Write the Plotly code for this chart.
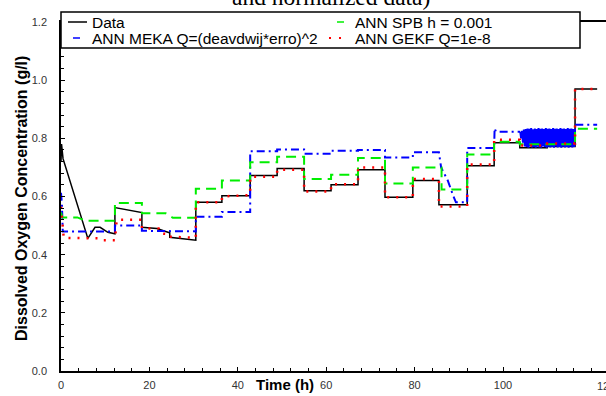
import numpy as np
import plotly.graph_objects as go

# ---- data (time in h, DO in g/l) ----
data_t = [0, 0.12, 0.46, 6.07, 7.7, 8.85, 10.6, 12.2, 12.2, 18.3, 18.3, 21.7, 24.2, 24.6, 24.6, 29.85,
          30.5, 30.5, 36.4, 36.4, 42.8, 42.8, 48.9, 48.9, 55, 55, 61.1, 61.1, 67.2, 67.2, 73.3, 73.3,
          79.6, 79.6, 85.5, 85.5, 91.9, 91.9, 98, 98, 103.8, 103.8, 110, 110, 116.3, 116.3, 121.3]
data_v = [0.72, 0.78, 0.73, 0.456, 0.494, 0.494, 0.477, 0.472, 0.562, 0.545, 0.494, 0.49, 0.477, 0.475,
          0.46, 0.45, 0.45, 0.58, 0.58, 0.603, 0.603, 0.672, 0.672, 0.696, 0.696, 0.62, 0.62, 0.64, 0.64,
          0.692, 0.692, 0.597, 0.597, 0.655, 0.655, 0.572, 0.572, 0.706, 0.706, 0.785, 0.785, 0.768,
          0.768, 0.772, 0.772, 0.97, 0.97]

meka_t = [0, 0.2, 0.4, 12.2, 12.2, 18.3, 18.3, 30.5, 30.5, 36.4, 36.4, 42.8, 42.8, 48.9, 48.9, 55, 55,
          61.1, 61.1, 67.2, 67.2, 73.3, 73.3, 79.6, 79.6, 85.5, 86.0, 87.5, 88.8, 89.35, 91.9, 91.9, 98,
          98.1, 98.4, 103.9]
meka_v = [0.613, 0.575, 0.48, 0.48, 0.50, 0.50, 0.482, 0.48, 0.53, 0.53, 0.547, 0.547, 0.756, 0.756,
          0.762, 0.762, 0.747, 0.747, 0.757, 0.757, 0.76, 0.76, 0.734, 0.734, 0.752, 0.752, 0.70, 0.655,
          0.60, 0.58, 0.58, 0.767, 0.767, 0.835, 0.823, 0.823]
# oscillating MEKA estimate between ~104 h and ~116 h (read as a dense band)
meka_osc_start, meka_osc_end = 104.1, 116.3
meka_osc_v = [0.800, 0.826, 0.785, 0.830, 0.772, 0.832, 0.770, 0.834, 0.768, 0.833, 0.772, 0.835,
              0.769, 0.831, 0.770, 0.834, 0.768, 0.832, 0.771, 0.835, 0.769, 0.833, 0.768, 0.834,
              0.772, 0.832, 0.770, 0.835, 0.768, 0.833, 0.771, 0.834, 0.769, 0.832, 0.770, 0.835,
              0.768, 0.833, 0.772, 0.834, 0.769, 0.832, 0.770, 0.835, 0.768, 0.833, 0.771, 0.834,
              0.769, 0.832, 0.770, 0.835, 0.768, 0.833, 0.772, 0.834, 0.769, 0.832, 0.770, 0.833]
meka_tail_t = [116.35, 121.3]
meka_tail_v = [0.847, 0.847]

spb_t = [0, 0.3, 3.7, 5.46, 12.2, 12.2, 18.3, 18.3, 23.7, 25.3, 30.5, 30.5, 36.4, 36.4, 42.8, 42.8,
         48.9, 48.9, 55, 55, 61.1, 61.1, 67.2, 67.2, 73.3, 73.3, 79.6, 79.6, 86.1, 86.1, 91.9, 91.9, 98,
         98, 103.8, 103.8, 110, 110, 116.3, 116.3, 121.3]
spb_v = [0.545, 0.528, 0.528, 0.517, 0.517, 0.578, 0.578, 0.542, 0.542, 0.527, 0.527, 0.627, 0.627,
         0.655, 0.655, 0.718, 0.718, 0.737, 0.737, 0.66, 0.66, 0.675, 0.675, 0.732, 0.732, 0.645, 0.645,
         0.70, 0.70, 0.624, 0.624, 0.744, 0.744, 0.788, 0.788, 0.78, 0.78, 0.78, 0.78, 0.833, 0.833]

gekf_t = [0, 0.31, 0.62, 8.85, 9.26, 12.2, 12.6, 18.3, 18.3, 22.1, 22.6, 24.6, 24.6, 30.5, 30.5, 36.4,
          36.4, 42.8, 42.8, 48.9, 48.9, 55, 55, 61.1, 61.1, 67.2, 67.2, 73.3, 73.3, 79.6, 79.6, 85.5,
          85.5, 91.9, 91.9, 98, 98, 103.8, 103.8, 110, 110, 116.3, 116.3, 121.3]
gekf_v = [0.565, 0.50, 0.458, 0.456, 0.45, 0.45, 0.52, 0.52, 0.49, 0.49, 0.473, 0.47, 0.462, 0.458,
          0.58, 0.58, 0.60, 0.605, 0.668, 0.668, 0.692, 0.692, 0.617, 0.617, 0.642, 0.642, 0.70, 0.70,
          0.597, 0.597, 0.66, 0.66, 0.566, 0.566, 0.71, 0.71, 0.795, 0.795, 0.775, 0.775, 0.782, 0.782,
          0.97, 0.97]

names = ["Data", "ANN MEKA Q=(deavdwij*erro)^2", "ANN SPB h = 0.001", "ANN GEKF Q=1e-8"]
x_ticks = [0, 20, 40, 60, 80, 100]
y_ticks = [0.0, 0.2, 0.4, 0.6, 0.8, 1.0, 1.2]

# ---- figure ----
W, H = 606, 396
ml, mr, mt, mb = 61, 0, 22, 25
pw, ph = W - ml - mr, H - mt - mb
px_per_h = 4.42
x_max = pw / px_per_h

BLUE, GREEN, RED = "#0000ff", "#00ee00", "#ff0000"

meka_osc_t = list(np.linspace(meka_osc_start, meka_osc_end, len(meka_osc_v)))

fig = go.Figure()
fig.add_trace(go.Scatter(x=data_t, y=data_v, mode="lines", name=names[0],
                         line=dict(color="black", width=1.5)))
fig.add_trace(go.Scatter(x=meka_t + meka_tail_t[:0], y=meka_v, mode="lines", name=names[1],
                         line=dict(color=BLUE, width=2, dash="8px,4px,2px,4px")))
fig.add_trace(go.Scatter(x=[meka_t[-1]] + meka_osc_t, y=[meka_v[-1]] + meka_osc_v, mode="lines",
                         name=names[1], showlegend=False, line=dict(color=BLUE, width=2)))
fig.add_trace(go.Scatter(x=meka_tail_t, y=meka_tail_v, mode="lines", name=names[1], showlegend=False,
                         line=dict(color=BLUE, width=2, dash="8px,4px,2px,4px")))
fig.add_trace(go.Scatter(x=spb_t, y=spb_v, mode="lines", name=names[2],
                         line=dict(color=GREEN, width=2, dash="10px,6px")))
fig.add_trace(go.Scatter(x=gekf_t, y=gekf_v, mode="lines", name=names[3],
                         line=dict(color=RED, width=2.5, dash="2px,7px")))


def px_x(p):
    return (p - ml) / pw


def px_y(p):
    return (H - mb - p) / ph


shapes = []
annotations = []
# legend box
shapes.append(dict(type="rect", xref="paper", yref="paper", x0=px_x(61), x1=px_x(580),
                   y0=px_y(48), y1=px_y(12), line=dict(color="black", width=1.5),
                   fillcolor="white", layer="above"))
# legend samples
row1, row2 = 22, 38
shapes.append(dict(type="line", xref="paper", yref="paper", x0=px_x(68), x1=px_x(87),
                   y0=px_y(row1), y1=px_y(row1), line=dict(color="black", width=1.5), layer="above"))
shapes.append(dict(type="line", xref="paper", yref="paper", x0=px_x(73), x1=px_x(80),
                   y0=px_y(row2), y1=px_y(row2), line=dict(color=BLUE, width=1.5), layer="above"))
shapes.append(dict(type="line", xref="paper", yref="paper", x0=px_x(337), x1=px_x(344),
                   y0=px_y(row1), y1=px_y(row1), line=dict(color=GREEN, width=1.5), layer="above"))
shapes.append(dict(type="line", xref="paper", yref="paper", x0=px_x(329), x1=px_x(343),
                   y0=px_y(row2), y1=px_y(row2),
                   line=dict(color=RED, width=2, dash="2px,8px"), layer="above"))
leg_font = dict(family="Liberation Sans, Arial", size=15.5, color="black")
for txt, xp, yp in [(names[0], 90, row1), (names[1], 90, row2), (names[2], 353, row1), (names[3], 353, row2)]:
    annotations.append(dict(text=txt, xref="paper", yref="paper", x=px_x(xp), y=px_y(yp),
                            xanchor="left", yanchor="middle", showarrow=False, font=leg_font))

# cut-off title fragment at very top
annotations.append(dict(text="and normalized data)", xref="paper", yref="paper", x=px_x(331),
                        y=px_y(12), xanchor="center", yanchor="bottom", showarrow=False,
                        font=dict(family="Liberation Serif, Times New Roman", size=23.5, color="black")))
# axis titles
annotations.append(dict(text="<b>Dissolved Oxygen Concentration (g/l)</b>", xref="paper", yref="paper",
                        x=px_x(21), y=px_y(199), xanchor="center", yanchor="middle", textangle=-90,
                        showarrow=False, font=dict(family="Liberation Sans, Arial", size=16, color="black")))
annotations.append(dict(text="<b>Time (h)</b>", xref="paper", yref="paper",
                        x=px_x(285), y=px_y(384), xanchor="center", yanchor="middle",
                        showarrow=False, font=dict(family="Liberation Sans, Arial", size=15, color="black")))
# partially visible 120 tick label at the cropped right edge
annotations.append(dict(text="120", xref="paper", yref="paper", x=px_x(606), y=px_y(386),
                        xanchor="center", yanchor="middle", showarrow=False,
                        font=dict(family="Liberation Sans, Arial", size=11, color="#333")))

fig.update_layout(
    width=W, height=H, margin=dict(l=ml, r=mr, t=mt, b=mb, pad=0),
    paper_bgcolor="white", plot_bgcolor="white", showlegend=False,
    shapes=shapes, annotations=annotations,
    font=dict(family="Liberation Sans, Arial", size=11, color="#333"),
)
fig.update_xaxes(range=[0, x_max], tickvals=x_ticks, ticks="inside", ticklen=4, tickwidth=1,
                 tickcolor="black", showline=True, linecolor="black", linewidth=1.5, mirror=True,
                 showgrid=False, zeroline=False, tickfont=dict(size=11, color="#333"),
                 ticklabelstandoff=3,
                 minor=dict(dtick=4, ticks="inside", ticklen=3, tickcolor="black", showgrid=False))
fig.update_yaxes(range=[0, 1.2], tickvals=y_ticks, tickformat=".1f", ticks="inside", ticklen=4,
                 tickwidth=1, tickcolor="black", showline=True, linecolor="black", linewidth=1.5,
                 showgrid=False, zeroline=False, tickfont=dict(size=11, color="#333"),
                 ticklabelstandoff=10,
                 minor=dict(dtick=0.04, ticks="inside", ticklen=3, tickcolor="black", showgrid=False))

fig.write_html("out.html")
